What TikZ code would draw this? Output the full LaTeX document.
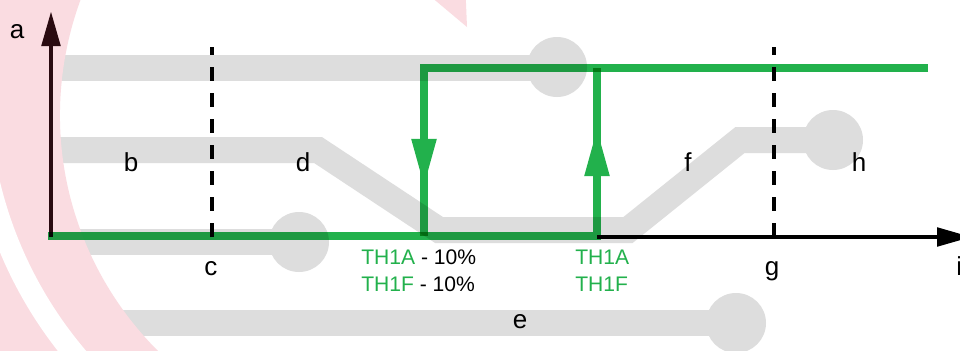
\documentclass[tikz,border=0pt]{standalone}
\usepackage{fontspec}
\setmainfont{Liberation Sans}
\usetikzlibrary{arrows.meta,calc,positioning}
\definecolor{thgreen}{RGB}{34,177,76}
\definecolor{trgray}{RGB}{221,221,221}
\definecolor{wmpink}{RGB}{250,220,225}
\definecolor{axdark}{RGB}{42,10,16}

\begin{document}
\begin{tikzpicture}[x=0.025cm,y=-0.025cm,
  trace/.style={draw=trgray,line width=0.65cm},
  pad/.style={fill=trgray},
  lbl/.style={inner sep=0pt,anchor=base,font=\fontsize{18.5}{22}\selectfont},
  th/.style={inner sep=0pt,anchor=base west,font=\fontsize{15}{18}\selectfont},
  grn/.style={draw=thgreen,line width=5pt},
  flow/.style={grn,-{Triangle[width=0.64cm,length=1.15cm,line width=0pt]}},
  axis/.style={line width=2.4pt,-{Triangle[width=0.49cm,length=0.85cm,line width=0pt]}},
  cutline/.style={draw=black,line width=2.6pt,dash pattern=on 0.35cm off 0.3cm}]
  \useasboundingbox (0,0) rectangle (960,350);
  \clip (0,0) rectangle (960,350);
  \fill[white] (0,0) rectangle (960,350);
  \draw[trace] (30,68) -- (557,68);
  \fill[pad] (557,67) circle[radius=30];
  \draw[trace] (30,150) -- (318,150) -- (439,230) -- (628,230) -- (740,140) -- (833,140);
  \fill[pad] (833,140) circle[radius=30];
  \draw[trace] (50,242) -- (299,242);
  \fill[pad] (299,242) circle[radius=30];
  \draw[trace] (95,323) -- (736,323);
  \fill[pad] (736,323) circle[radius=30];
  \coordinate (rc) at (393,115);
  \coordinate (sc) at (393,88);
  \fill[wmpink] ($(rc)+(100:333)$) arc[start angle=100,end angle=260,radius=333]
    -- ($(rc)+(260:620)$) arc[start angle=260,end angle=100,radius=620] -- cycle;
  \fill[white] ($(sc)+(110:404)$) arc[start angle=110,end angle=250,radius=404]
    -- ($(sc)+(250:426)$) arc[start angle=250,end angle=110,radius=426] -- cycle;
  \fill[wmpink] (411,-20) -- (465,-20) -- (467,27) -- cycle;
  \coordinate (O) at (51,237);
  \coordinate (ytop) at (51,12);
  \coordinate (xs) at (597,237);
  \coordinate (xend) at (971,237);
  \coordinate (g0) at (48,236);
  \coordinate (gR) at (597,236);
  \coordinate (gRt) at (597,68);
  \coordinate (gL) at (424,68);
  \coordinate (gLb) at (424,236);
  \coordinate (gE) at (928,68);
  \coordinate (upbase) at (597,190);
  \coordinate (tipup) at (597,130);
  \coordinate (dnbase) at (424,125);
  \coordinate (tipdn) at (424,185);
  \foreach \x/\n in {212/c,774/g}{
    \coordinate (\n bot) at (\x,237);
    \coordinate (\n top) at (\x,47);
    \draw[cutline] (\n bot) -- (\n top);
  }
  \draw[axis,axdark] (O) -- (ytop);
  \draw[axis,black] (xs) -- (xend);
  \begin{scope}[blend mode=multiply]
    \draw[grn] (g0) -- (gR) -- (gRt);
    \draw[grn] (gE) -- (gL) -- (gLb);
  \end{scope}
  \draw[flow] (upbase) -- (tipup);
  \draw[flow] (dnbase) -- (tipdn);
  \foreach \n/\x/\y in {a/17/38,b/131/171,c/211/275,d/303/171,e/520/328,f/688/171,g/772/275,h/859/171}
    \node[lbl] (l\n) at (\x,\y) {\n};
  \node[lbl,anchor=base west] (li) at (956,275) {i};
  \node[th] (th1) at (361,264) {\textcolor{thgreen}{TH1A} - 10\%};
  \node[th] (th2) at (361,291) {\textcolor{thgreen}{TH1F} - 10\%};
  \node[th,text=thgreen] (th3) at (575,264) {TH1A};
  \node[th,text=thgreen] (th4) at (575,291) {TH1F};
\end{tikzpicture}
\end{document}
